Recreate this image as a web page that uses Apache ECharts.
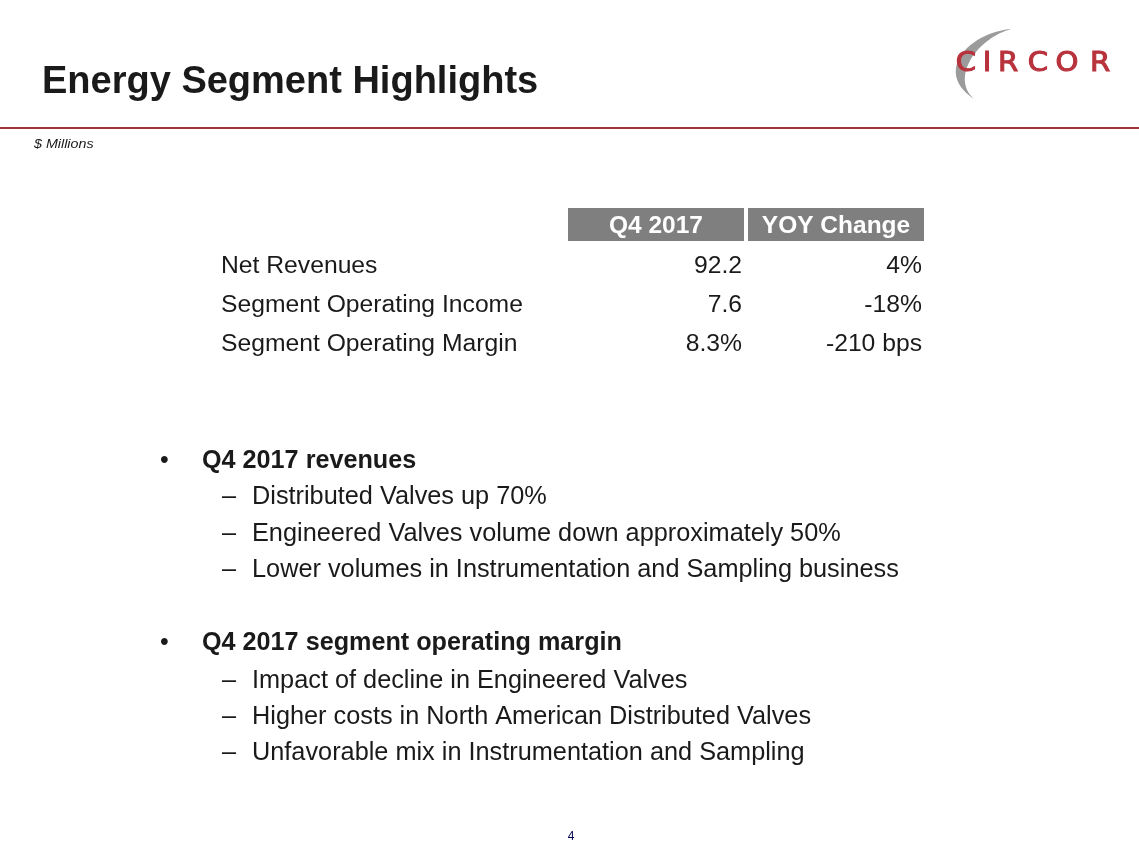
<!DOCTYPE html>
<html><head><meta charset="utf-8">
<script src="https://cdn.jsdelivr.net/npm/echarts@6/dist/echarts.min.js"></script>
<style>html,body{margin:0;padding:0;background:#fff}#c{width:1139px;height:850px}</style>
</head><body><div id="c"></div>
<script>
const title = 'Energy Segment Highlights';
const unitNote = '$ Millions';
const headers = ['Q4 2017', 'YOY Change'];
const rowLabels = ['Net Revenues', 'Segment Operating Income', 'Segment Operating Margin'];
const q4Values = ['92.2', '7.6', '8.3%'];
const yoyChanges = ['4%', '-18%', '-210 bps'];
const bullet1 = 'Q4 2017 revenues';
const bullet1Subs = ['Distributed Valves up 70%', 'Engineered Valves volume down approximately 50%', 'Lower volumes in Instrumentation and Sampling business'];
const bullet2 = 'Q4 2017 segment operating margin';
const bullet2Subs = ['Impact of decline in Engineered Valves', 'Higher costs in North American Distributed Valves', 'Unfavorable mix in Instrumentation and Sampling'];
const logoLetters = ['C','I','R','C','O','R'];
const pageNum = '4';

const FONT = '"Liberation Sans", Arial, sans-serif';
const TXT = '#1a1a1a';
const g = [];
function text(x, y, s, size, opts) {
  opts = opts || {};
  g.push({type:'text', x:x, y:y, scaleX:opts.sx||1, style:{text:s, font:(opts.style||'normal')+' '+(opts.weight||'normal')+' '+size+'px '+FONT,
    fill:opts.fill||TXT, textAlign:opts.align||'left', textVerticalAlign:'middle'}});
}
// title
text(42, 83, title, 38, {weight:'bold'});
// rule
g.push({type:'rect', shape:{x:0, y:127, width:1139, height:2}, style:{fill:'#a0323a'}});
text(34, 144, unitNote, 13, {style:'italic', sx:1.1});
// logo swoosh (crescent from two cubic curves)
function cubic(p0,p1,p2,p3,n){const out=[];for(let i=0;i<=n;i++){const t=i/n,u=1-t;out.push([u*u*u*p0[0]+3*u*u*t*p1[0]+3*u*t*t*p2[0]+t*t*t*p3[0],u*u*u*p0[1]+3*u*u*t*p1[1]+3*u*t*t*p2[1]+t*t*t*p3[1]]);}return out;}
const outer = cubic([1011,29],[968,33],[933,72],[974,99],40);
const inner = cubic([974,99],[951,79],[974,40],[1011,29],40);
g.push({type:'polygon', shape:{points:outer.concat(inner)}, style:{fill:'#9b9b9b'}});
const logoX = [966, 987, 1008, 1038, 1067, 1100];
logoLetters.forEach((L,i)=>{
  g.push({type:'text', x:logoX[i], y:64, scaleX:1.12, style:{text:L, font:'normal 26px "DejaVu Sans", sans-serif', fill:'#b8323c', stroke:'#b8323c', lineWidth:1, textAlign:'center', textVerticalAlign:'middle'}});
});
// table header
const colBox = [[568,744],[748,924]];
headers.forEach((h,i)=>{
  g.push({type:'rect', shape:{x:colBox[i][0], y:208, width:colBox[i][1]-colBox[i][0], height:33}, style:{fill:'#7f7f7f'}});
  text((colBox[i][0]+colBox[i][1])/2, 226, h, 24.5, {weight:'bold', fill:'#ffffff', align:'center'});
});
const rowY = [266, 305, 344];
rowLabels.forEach((r,i)=>{
  text(221, rowY[i], r, 24.7);
  text(742, rowY[i], q4Values[i], 24.7, {align:'right'});
  text(922, rowY[i], yoyChanges[i], 24.7, {align:'right'});
});
// bullets
function bulletBlock(y0, head, subs, ys) {
  text(160, y0, '•', 25);
  text(202, y0, head, 25.2, {weight:'bold'});
  subs.forEach((s,i)=>{
    text(222, ys[i], '–', 25.3);
    text(252, ys[i], s, 25.3);
  });
}
bulletBlock(461, bullet1, bullet1Subs, [497, 534, 570]);
bulletBlock(643, bullet2, bullet2Subs, [681, 717, 753]);
text(571, 837, pageNum, 12, {align:'center', fill:'#000050'});

const chart = echarts.init(document.getElementById('c'), null, {renderer:'canvas'});
chart.setOption({animation:false, backgroundColor:'#ffffff', graphic:g});
</script></body></html>
